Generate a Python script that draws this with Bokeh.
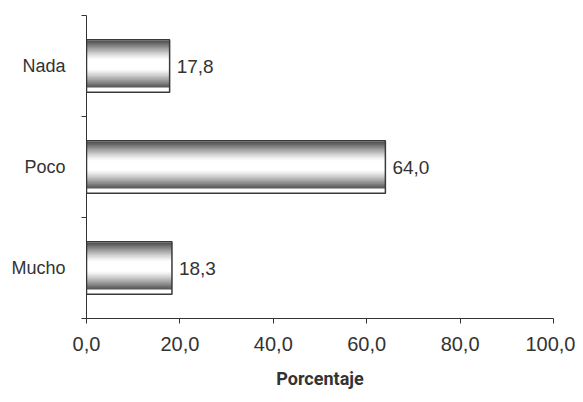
from bokeh.plotting import figure
from bokeh.models import ColumnDataSource, FixedTicker, Range1d
from bokeh.embed import file_html
from bokeh.resources import INLINE
from bokeh.core.properties import value

categories = ["Mucho", "Poco", "Nada"]
percentages = [18.3, 64.0, 17.8]
labels = ["18,3", "64,0", "17,8"]
x_ticks = [0, 20, 40, 60, 80, 100]
x_tick_labels = ["0,0", "20,0", "40,0", "60,0", "80,0", "100,0"]

centers = [i + 0.5 for i in range(len(categories))]

p = figure(width=575, height=394, output_backend="svg", toolbar_location=None,
           x_range=Range1d(0, 100), y_range=Range1d(0, 3),
           min_border_left=86, min_border_right=22, min_border_top=15, min_border_bottom=76)
p.outline_line_color = None
p.xgrid.visible = False
p.ygrid.visible = False
p.background_fill_color = "white"

# gradient strips
N = 40
half = 0.26
g_top = half - 0.01
g_bot = -half + 0.05
strip_h = (g_top - g_bot) / N
for k in range(N):
    t = (k + 0.5) / N  # 0 bottom -> 1 top
    d = abs(2 * t - 1)
    d = max(0.0, d - 0.2) / 0.8
    g = int(255 - (d ** 1.2) * 175)
    col = "#%02x%02x%02x" % (g, g, g)
    ys = [c + g_bot + (k + 0.5) * strip_h for c in centers]
    p.hbar(y=ys, left=0, right=percentages, height=strip_h * 1.6,
           fill_color=col, line_color=None)

# outline frame
src = ColumnDataSource(dict(y=centers, right=percentages, lab=labels))
p.hbar(y="y", left=0, right="right", height=2 * half, source=src,
       fill_color=None, line_color="#3a3a3a", line_width=1.5)

p.text(x="right", y="y", text="lab", source=src, x_offset=7,
       text_baseline="middle", text_align="left",
       text_font=value("Liberation Sans"), text_font_size="19px", text_color="#333333")

# x axis
xa = p.xaxis[0]
xa.ticker = FixedTicker(ticks=x_ticks)
xa.major_label_overrides = {t: l for t, l in zip(x_ticks, x_tick_labels)}
xa.major_label_text_font = "Liberation Sans"
xa.major_label_text_font_size = "20px"
xa.major_label_text_color = "#333333"
xa.major_label_standoff = 13
xa.major_tick_in = 0
xa.major_tick_out = 5
xa.minor_tick_out = 0
xa.minor_tick_in = 0
xa.axis_line_color = "#333333"
xa.major_tick_line_color = "#333333"
xa.axis_label = "Porcentaje"
xa.axis_label_text_font = "Roboto"
xa.axis_label_text_font_style = "bold"
xa.axis_label_text_font_size = "18px"
xa.axis_label_text_color = "#333333"
xa.axis_label_standoff = 14

# y axis
ya = p.yaxis[0]
ya.ticker = FixedTicker(ticks=centers, minor_ticks=[0, 1, 2, 3])
ya.major_label_overrides = {c: n for c, n in zip(centers, categories)}
ya.major_label_text_font = "Liberation Sans"
ya.major_label_text_font_size = "18px"
ya.major_label_text_color = "#333333"
ya.major_label_standoff = 16
ya.major_tick_in = 0
ya.major_tick_out = 0
ya.minor_tick_in = 0
ya.minor_tick_out = 5
ya.minor_tick_line_color = "#333333"
ya.axis_line_color = "#333333"

open("out.html", "w").write(file_html(p, INLINE))
